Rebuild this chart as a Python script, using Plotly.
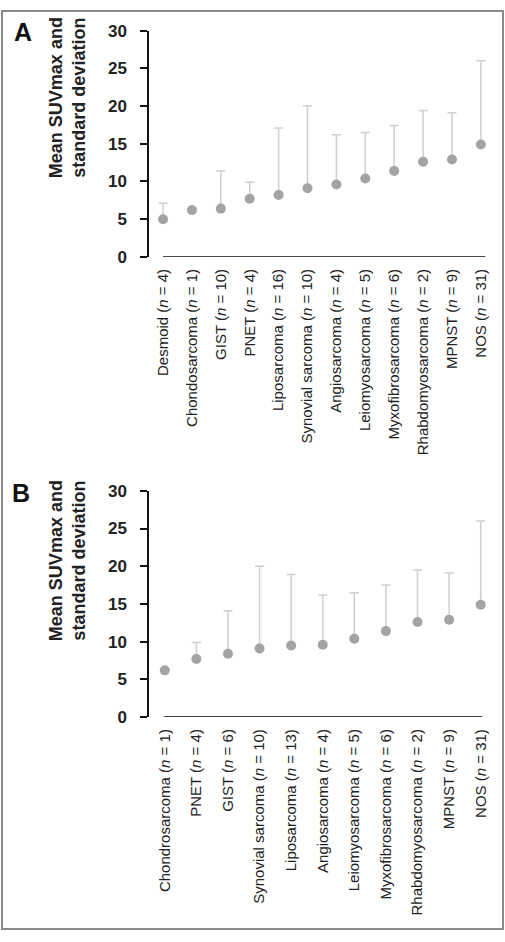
import plotly.graph_objects as go

# Panel A data
cats_a = ["Desmoid (<i>n</i> = 4)", "Chondosarcoma (<i>n</i> = 1)", "GIST (<i>n</i> = 10)",
          "PNET (<i>n</i> = 4)", "Liposarcoma (<i>n</i> = 16)", "Synovial sarcoma (<i>n</i> = 10)",
          "Angiosarcoma (<i>n</i> = 4)", "Leiomyosarcoma (<i>n</i> = 5)", "Myxofibrosarcoma (<i>n</i> = 6)",
          "Rhabdomyosarcoma (<i>n</i> = 2)", "MPNST (<i>n</i> = 9)", "NOS (<i>n</i> = 31)"]
mean_a = [5.0, 6.2, 6.4, 7.7, 8.2, 9.1, 9.6, 10.4, 11.4, 12.6, 12.9, 14.9]
sd_a = [2.1, None, 5.0, 2.2, 8.9, 10.9, 6.6, 6.1, 6.0, 6.8, 6.2, 11.1]

# Panel B data
cats_b = ["Chondrosarcoma (<i>n</i> = 1)", "PNET (<i>n</i> = 4)", "GIST (<i>n</i> = 6)",
          "Synovial sarcoma (<i>n</i> = 10)", "Liposarcoma (<i>n</i> = 13)", "Angiosarcoma (<i>n</i> = 4)",
          "Leiomyosarcoma (<i>n</i> = 5)", "Myxofibrosarcoma (<i>n</i> = 6)", "Rhabdomyosarcoma (<i>n</i> = 2)",
          "MPNST (<i>n</i> = 9)", "NOS (<i>n</i> = 31)"]
mean_b = [6.2, 7.7, 8.4, 9.1, 9.5, 9.6, 10.4, 11.4, 12.6, 12.9, 14.9]
sd_b = [None, 2.2, 5.7, 10.9, 9.4, 6.6, 6.1, 6.1, 6.9, 6.2, 11.1]

y_ticks = [0, 5, 10, 15, 20, 25, 30]

FONT = "Liberation Sans, Arial, sans-serif"
W, H = 505, 942
PT_COLOR = "#a3a3a3"
ERR_COLOR = "#cfcfcf"

fig = go.Figure()


def add_panel(cats, means, sds, xa, ya):
    fig.add_trace(go.Scatter(
        x=list(range(len(cats))), y=means, mode="markers",
        marker=dict(color=PT_COLOR, size=10),
        error_y=dict(type="data", array=sds, arrayminus=[0] * len(cats), symmetric=False,
                     color=ERR_COLOR, thickness=1.5, width=4.5),
        xaxis=xa, yaxis=ya, showlegend=False, hoverinfo="skip", cliponaxis=False))


add_panel(cats_a, mean_a, sd_a, "x", "y")
add_panel(cats_b, mean_b, sd_b, "x2", "y2")

xdom = [149 / W, 0.98]
xcommon = dict(showgrid=False, zeroline=False, showline=False, ticks="",
               tickangle=-90, tickfont=dict(family=FONT, size=15, color="#222"),
               ticklabelstandoff=8, fixedrange=True)
ycommon = dict(range=[0, 30], tickvals=y_ticks, showgrid=False, zeroline=False,
               showline=True, linecolor="#111", linewidth=1.5, ticks="outside",
               ticklen=7, tickwidth=1.5, tickcolor="#111", ticklabelstandoff=10,
               tickfont=dict(family=FONT, size=17, color="#222", weight="bold"))

fig.update_layout(
    width=W, height=H, margin=dict(l=0, r=0, t=0, b=0),
    paper_bgcolor="white", plot_bgcolor="white",
    xaxis=dict(domain=xdom, range=[-0.485, 11.485], tickvals=list(range(len(cats_a))),
               ticktext=cats_a, anchor="y", **xcommon),
    yaxis=dict(domain=[1 - 253 / H, 1 - 22 / H], anchor="x", **ycommon),
    xaxis2=dict(domain=xdom, range=[-0.5, 10.45], tickvals=list(range(len(cats_b))),
                ticktext=cats_b, anchor="y2", **xcommon),
    yaxis2=dict(domain=[1 - 722.7 / H, 1 - 491.7 / H], anchor="x2", **ycommon),
)

# x baselines
fig.add_shape(type="line", xref="x", yref="y", x0=0, x1=len(cats_a) - 1 + 0.15, y0=0, y1=0,
              line=dict(color="#111", width=1.5))
fig.add_shape(type="line", xref="x2", yref="y2", x0=-0.03, x1=len(cats_b) - 1 + 0.05, y0=0, y1=0,
              line=dict(color="#111", width=1.5))

# border
fig.add_shape(type="rect", xref="paper", yref="paper", x0=2 / W, x1=503 / W, y0=1 - 939 / H, y1=1 - 2 / H,
              line=dict(color="#8a8a8a", width=2))

title = "Mean SUVmax and<br>standard deviation"
for label, lx, ly, ty in [("A", 22.5, 23.5, 90.5), ("B", 21, 493.5, 563)]:
    fig.add_annotation(text=label, xref="paper", yref="paper", x=lx / W, y=1 - ly / H,
                       xanchor="center", yanchor="middle", showarrow=False,
                       font=dict(family=FONT, size=25, color="#111", weight="bold"))
    fig.add_annotation(text=title, xref="paper", yref="paper", x=67.5 / W, y=1 - ty / H,
                       xanchor="center", yanchor="middle", showarrow=False, textangle=-90,
                       font=dict(family=FONT, size=18, color="#222", weight="bold"))

fig.write_html("out.html", config={"displayModeBar": False},
               post_script="document.body.style.margin='0';document.body.style.overflow='hidden';")
